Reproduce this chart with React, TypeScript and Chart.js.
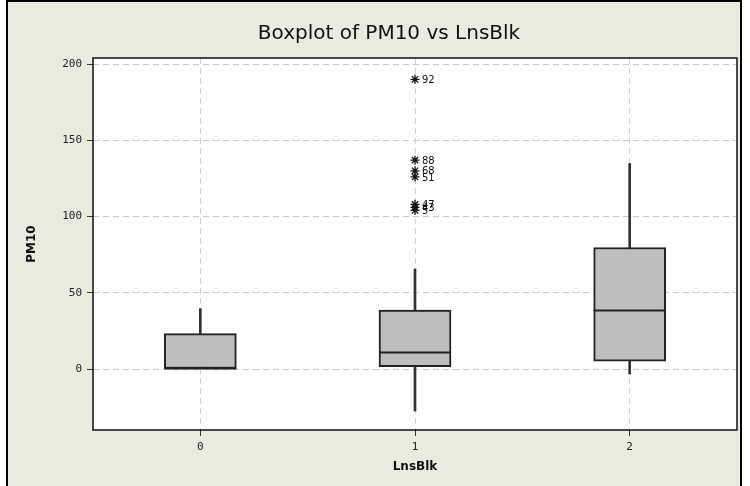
import React, { useEffect, useRef } from 'react';
import { Chart, registerables } from 'chart.js';

Chart.register(...registerables);

// ---- data ----
const categories = ['0', '1', '2'];
const whiskerLow = [0, -27.6, -3.3];
const q1 = [0, 1.5, 5.2];
const median = [0.5, 11.2, 38.4];
const q3 = [23.2, 38.6, 79.7];
const whiskerHigh = [39.6, 65.6, 134.8];

const outlierCategory = ['1', '1', '1', '1', '1', '1', '1'];
const outlierValues = [190, 137, 130, 126, 108, 106, 104];
const outlierIds = ['92', '88', '68', '51', '47', '43', '5'];

const yTicks = [0, 50, 100, 150, 200];
const yMin = -40;
const yMax = 204;

const chartTitle = 'Boxplot of PM10 vs LnsBlk';
const xTitle = 'LnsBlk';
const yTitle = 'PM10';

const BEIGE = 'rgb(234,234,222)';

const framePlugin = {
  id: 'frame',
  beforeDraw(chart: any) {
    const { ctx, width, height, chartArea } = chart;
    ctx.save();
    ctx.fillStyle = '#ffffff';
    ctx.fillRect(0, 0, width, height);
    ctx.fillStyle = BEIGE;
    ctx.fillRect(8, 2, 733, height - 2);
    ctx.fillStyle = '#000000';
    ctx.fillRect(6, 0, 2, height);
    ctx.fillRect(6, 0, 736, 2);
    ctx.fillRect(740, 0, 2, height);
    ctx.fillStyle = '#ffffff';
    ctx.fillRect(chartArea.left, chartArea.top, chartArea.right - chartArea.left, chartArea.bottom - chartArea.top);
    ctx.restore();
  },
  afterDatasetsDraw(chart: any) {
    const { ctx, scales } = chart;
    const boxMeta = chart.getDatasetMeta(1);
    ctx.save();
    ctx.strokeStyle = '#222222';
    ctx.lineWidth = 2;
    median.forEach((m, i) => {
      const el = boxMeta.data[i];
      if (!el) return;
      const x = el.x;
      const hw = el.width / 2;
      const y = Math.round(scales.y.getPixelForValue(m)) + 0.5;
      ctx.beginPath();
      ctx.moveTo(x - hw, y);
      ctx.lineTo(x + hw, y);
      ctx.stroke();
    });
    const outMeta = chart.getDatasetMeta(2);
    ctx.fillStyle = '#111111';
    ctx.font = '10px "DejaVu Sans"';
    ctx.textAlign = 'left';
    ctx.textBaseline = 'middle';
    outlierIds.forEach((id, i) => {
      const p = outMeta.data[i];
      if (!p) return;
      ctx.fillText(id, p.x + 7, p.y + 1);
    });
    ctx.restore();
  },
  afterDraw(chart: any) {
    const { ctx, chartArea } = chart;
    ctx.save();
    ctx.strokeStyle = '#111111';
    ctx.lineWidth = 1.5;
    ctx.strokeRect(chartArea.left, chartArea.top, chartArea.right - chartArea.left, chartArea.bottom - chartArea.top);
    ctx.fillStyle = '#111111';
    ctx.font = '20px "DejaVu Sans"';
    ctx.textAlign = 'center';
    ctx.textBaseline = 'alphabetic';
    ctx.fillText(chartTitle, 389, 39);
    ctx.restore();
  },
};

export default function App() {
  const ref = useRef<HTMLCanvasElement>(null);

  useEffect(() => {
    document.body.style.margin = '0';
    const canvas = ref.current;
    if (!canvas) return;
    const chart = new Chart(canvas, {
      type: 'bar',
      data: {
        labels: categories,
        datasets: [
          {
            type: 'bar',
            label: 'whisker',
            data: categories.map((_, i) => [whiskerLow[i], whiskerHigh[i]]),
            backgroundColor: '#333333',
            borderWidth: 0,
            barThickness: 2,
            grouped: false,
            order: 3,
          } as any,
          {
            type: 'bar',
            label: 'box',
            data: categories.map((_, i) => [q1[i], q3[i]]),
            backgroundColor: 'rgb(190,190,190)',
            borderColor: '#222222',
            borderWidth: 2,
            borderSkipped: false,
            barThickness: 72,
            grouped: false,
            order: 2,
          } as any,
          {
            type: 'line',
            label: 'outliers',
            data: outlierValues.map((v, i) => ({ x: outlierCategory[i], y: v })),
            showLine: false,
            pointStyle: 'star',
            pointRadius: 4.5,
            pointBorderColor: '#111111',
            pointBackgroundColor: '#111111',
            pointBorderWidth: 1.3,
            order: 1,
          } as any,
        ],
      },
      options: {
        animation: false,
        responsive: false,
        layout: { padding: { top: 58, right: 13, bottom: 0, left: 0 } },
        plugins: {
          legend: { display: false },
          tooltip: { enabled: false },
          title: { display: false },
        },
        scales: {
          x: {
            type: 'category',
            offset: true,
            grid: {
              offset: false,
              color: 'rgb(210,210,210)',
              lineWidth: 1,
              tickLength: 6,
              tickColor: '#333333',
              tickBorderDash: [],
            },
            border: { display: false, dash: [6, 4] },
            ticks: {
              color: '#222222',
              padding: 5,
              font: { family: '"DejaVu Sans Mono"', size: 11 },
            },
            title: {
              display: true,
              text: xTitle,
              color: '#111111',
              font: { family: '"DejaVu Sans"', size: 12, weight: 'bold' },
              padding: { top: 0, bottom: 12 },
            },
            afterFit: (scale: any) => {
              scale.height = 56;
            },
          },
          y: {
            type: 'linear',
            min: yMin,
            max: yMax,
            afterBuildTicks: (scale: any) => {
              scale.ticks = yTicks.map((v) => ({ value: v }));
            },
            grid: {
              color: 'rgb(200,200,200)',
              lineWidth: 1,
              tickLength: 6,
              tickColor: '#333333',
              tickBorderDash: [],
            },
            border: { display: false, dash: [6, 4] },
            ticks: {
              color: '#222222',
              padding: 5,
              font: { family: '"DejaVu Sans Mono"', size: 11 },
            },
            title: {
              display: true,
              text: yTitle,
              color: '#111111',
              font: { family: '"DejaVu Sans"', size: 12, weight: 'bold' },
              padding: { top: 25, bottom: 0 },
            },
            afterFit: (scale: any) => {
              scale.width = 93;
            },
          },
        },
      } as any,
      plugins: [framePlugin],
    });
    return () => chart.destroy();
  }, []);

  return (
    <div style={{ position: 'absolute', left: 0, top: 0, width: 750, height: 486 }}>
      <canvas ref={ref} width={750} height={486} style={{ display: 'block', width: 750, height: 486 }} />
    </div>
  );
}
